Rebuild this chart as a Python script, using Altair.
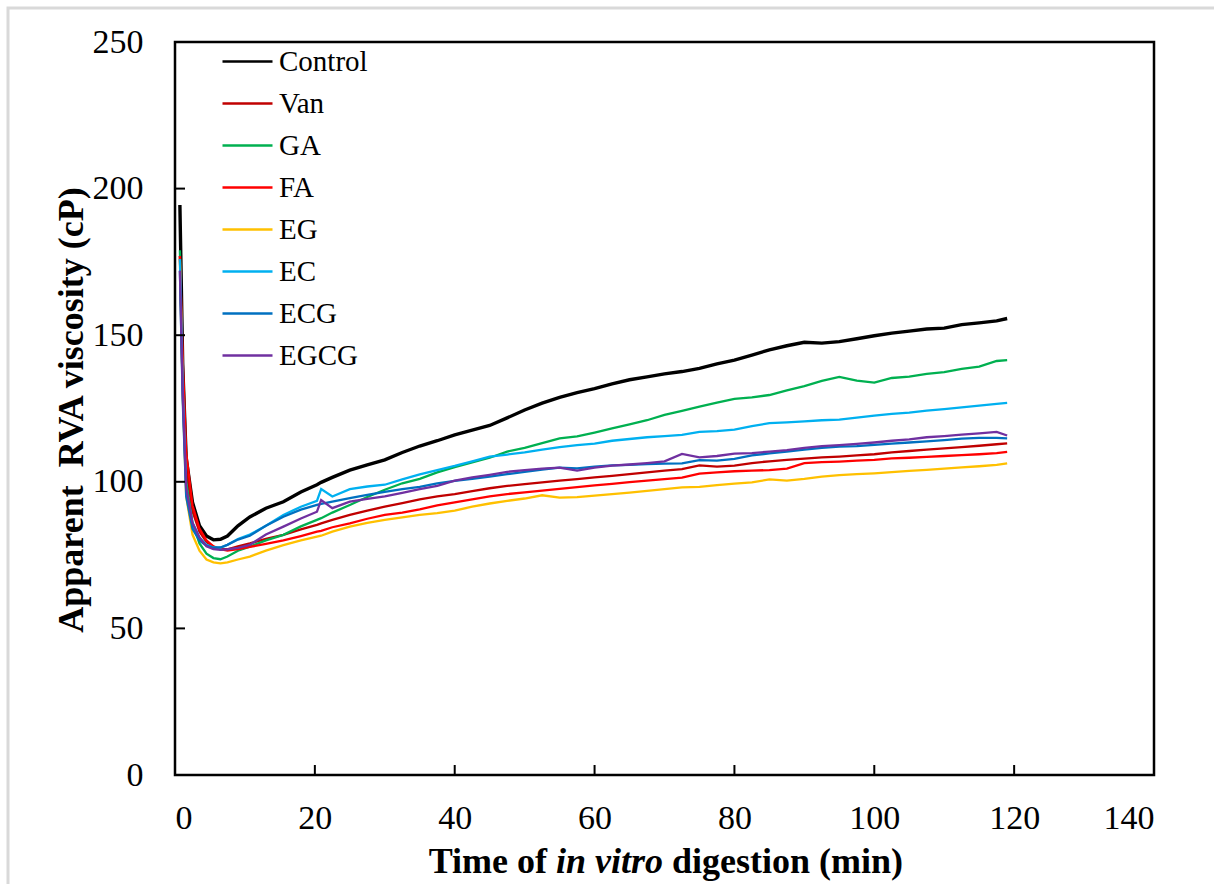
import altair as alt
import pandas as pd

SERIES = ["Control", "Van", "GA", "FA", "EG", "EC", "ECG", "EGCG"]
COLORS = ["#000000", "#C00000", "#00B050", "#FF0000", "#FFC000", "#00B0F0", "#0070C0", "#7030A0"]
WIDTHS = [3.4, 2.3, 2.3, 2.3, 2.3, 2.3, 2.3, 2.3]

TIME = [0.7, 1.1, 1.6, 2.5, 3.5, 4.5, 5.5, 6.5, 7.5, 9, 10.7, 13, 15.5, 18, 20.3, 20.9,
        22.5, 25, 27.5, 30, 32.5, 35, 37.5, 40, 42.5, 45, 47.5, 50, 52.5, 55, 57.5, 60,
        62.5, 65, 67.5, 70, 72.5, 75, 77.5, 80, 82.5, 85, 87.5, 90, 92.5, 95, 97.5, 100,
        102.5, 105, 107.5, 110, 112.5, 115, 117.5, 119]

CONTROL = [194.4, 140, 108, 93, 85, 81.5, 80.2, 80.4, 81.5, 85, 88, 91, 93.2, 96.5, 99, 99.8,
           101.5, 104, 105.8, 107.5, 110, 112.2, 114, 116, 117.6, 119.2, 121.8, 124.5, 126.8, 128.8, 130.4, 131.8,
           133.4, 134.8, 135.8, 136.8, 137.6, 138.7, 140.2, 141.5, 143.2, 145, 146.4, 147.6, 147.3, 147.8, 148.8, 149.8,
           150.7, 151.4, 152.1, 152.4, 153.6, 154.2, 154.9, 155.7]
VAN = [177, 138, 104, 90, 83, 79.5, 77.8, 77, 77, 78, 79, 80.5, 81.9, 83.8, 85.3, 85.8,
       87, 88.7, 90.2, 91.5, 92.7, 94, 95, 95.8, 96.8, 97.8, 98.6, 99.2, 99.8, 100.4, 100.9, 101.5,
       102, 102.6, 103.2, 103.8, 104.3, 105.6, 105.2, 105.5, 106.4, 107, 107.5, 107.9, 108.3, 108.6, 109, 109.4,
       110, 110.5, 111, 111.4, 111.8, 112.3, 112.8, 113.1]
GA = [179, 135, 100, 86, 79, 75.5, 74, 73.6, 74.5, 76.5, 77.9, 80, 81.9, 84.8, 87, 87.6,
      89.5, 92.1, 94.8, 97.3, 99.5, 101, 103.2, 105, 106.6, 108.2, 110.3, 111.6, 113.2, 114.8, 115.5, 116.8,
      118.2, 119.6, 121, 122.8, 124.2, 125.6, 127, 128.3, 128.8, 129.6, 131.2, 132.6, 134.4, 135.8, 134.5, 133.8,
      135.4, 135.9, 136.8, 137.4, 138.5, 139.3, 141.2, 141.5]
FA = [177, 142, 110, 92, 84, 80, 78, 77, 76.5, 77, 77.8, 78.8, 80, 81.5, 83, 83.3,
      84.5, 85.8, 87.4, 88.7, 89.5, 90.6, 92, 93, 94, 95, 95.8, 96.4, 97, 97.6, 98.2, 98.8,
      99.3, 99.9, 100.4, 100.9, 101.4, 102.8, 103.2, 103.6, 103.8, 104, 104.5, 106.4, 106.7, 106.9, 107.2, 107.5,
      108, 108.2, 108.5, 108.8, 109.1, 109.4, 109.8, 110.2]
EG = [176, 130, 95, 82, 76.5, 73.5, 72.5, 72.2, 72.5, 73.5, 74.5, 76.5, 78.4, 80, 81.3, 81.6,
      83, 84.7, 86, 87, 87.9, 88.7, 89.3, 90.2, 91.5, 92.6, 93.5, 94.3, 95.4, 94.6, 94.8, 95.3,
      95.8, 96.3, 96.9, 97.5, 98.1, 98.3, 98.9, 99.4, 99.8, 100.8, 100.4, 101, 101.8, 102.3, 102.6, 102.9,
      103.3, 103.7, 104.1, 104.5, 104.9, 105.3, 105.8, 106.3]
EC = [176, 132, 97, 86, 81, 78.5, 77.6, 77.5, 78.5, 80.5, 82, 85, 88.7, 91.5, 93.5, 97.5,
      95, 97.5, 98.4, 99, 100.8, 102.5, 104, 105.4, 107, 108.6, 109.3, 110, 111, 111.8, 112.5, 113,
      114, 114.6, 115.2, 115.6, 116, 117, 117.3, 117.8, 119, 120, 120.3, 120.6, 121, 121.2, 121.9, 122.6,
      123.2, 123.6, 124.3, 124.8, 125.4, 126, 126.6, 126.9]
ECG = [172, 128, 95, 84, 80, 78.2, 77.5, 77.6, 78.5, 80.3, 81.6, 85, 88.1, 90.5, 92.1, 92.5,
       93.2, 94.4, 95.5, 96.6, 97.5, 98.3, 99.5, 100.3, 101, 101.8, 102.6, 103.4, 104.2, 104.8, 104.6, 105.2,
       105.6, 105.8, 106, 106.2, 106.3, 107.4, 107.2, 107.8, 109, 109.7, 110.3, 111, 111.6, 112, 112.2, 112.6,
       113, 113.4, 113.8, 114.2, 114.7, 115, 115, 114.8]
EGCG = [172, 130, 98, 86, 81, 78, 77, 76.8, 77, 77.5, 78.5, 82, 84.7, 87.5, 89.8, 93.8,
        91, 93.2, 94.2, 95, 96.2, 97.5, 98.6, 100.4, 101.5, 102.4, 103.4, 104, 104.5, 104.8, 103.8, 104.8,
        105.5, 105.9, 106.4, 107, 109.5, 108.3, 108.8, 109.6, 109.8, 110.3, 110.8, 111.6, 112.2, 112.5, 112.9, 113.4,
        114, 114.5, 115.2, 115.6, 116.1, 116.5, 117, 115.8]

VALUES = [CONTROL, VAN, GA, FA, EG, EC, ECG, EGCG]
XTICKS = [0, 20, 40, 60, 80, 100, 120, 140]
YTICKS = [0, 50, 100, 150, 200, 250]

rows = []
for name, vals in zip(SERIES, VALUES):
    for t, v in zip(TIME, vals):
        rows.append({"series": name, "time": t, "visc": v})
df = pd.DataFrame(rows)

W, H = 979, 733
FONT = "Liberation Serif"

xscale = alt.Scale(domain=[0, 140], nice=False, zero=False)
yscale = alt.Scale(domain=[0, 250], nice=False)
cscale = alt.Scale(domain=SERIES, range=COLORS)

xenc = alt.X("time:Q", scale=xscale, title=None,
             axis=alt.Axis(values=XTICKS, labelPadding=26, labelFont=FONT))
yenc = alt.Y("visc:Q", scale=yscale, title=None,
             axis=alt.Axis(values=YTICKS, labelPadding=32, labelFont=FONT))

layers = []
for name, w in zip(SERIES, WIDTHS):
    lay = alt.Chart(df).transform_filter(alt.datum.series == name).mark_line(strokeWidth=w).encode(
        x=xenc, y=yenc,
        color=alt.Color("series:N", scale=cscale, title=None,
                        legend=alt.Legend(orient="none", legendX=46, legendY=-7))
    )
    layers.append(lay)

xt = alt.Chart(pd.DataFrame({"time": XTICKS})).mark_rule(color="black", strokeWidth=2).encode(
    x=xenc, y=alt.value(H), y2=alt.value(H - 10))
yt = alt.Chart(pd.DataFrame({"visc": YTICKS})).mark_rule(color="black", strokeWidth=2).encode(
    y=yenc, x=alt.value(0), x2=alt.value(10))

def txt(s, x, y, align, style="normal", angle=0):
    kw = dict(font=FONT, fontSize=36, fontWeight="bold", fontStyle=style, align=align,
              baseline="alphabetic", color="black")
    if angle:
        kw["angle"] = angle
    return alt.Chart(pd.DataFrame({"s": [s]})).mark_text(**kw).encode(
        text="s:N", x=alt.value(x), y=alt.value(y))

t1 = txt("Time of", 372, 831, "right")
t2 = txt("in vitro", 381, 831, "left", style="italic")
t3 = txt("digestion (min)", 497, 831, "left")
ty = txt("Apparent\u00a0\u00a0RVA viscosity (cP)", -92, 368, "center", angle=270)

frame = alt.Chart(pd.DataFrame({"a": [0]})).mark_rect(fill=None, stroke="#d9d9d9", strokeWidth=3).encode(
    x=alt.value(-167), x2=alt.value(1060), y=alt.value(-34), y2=alt.value(860))

chart = alt.layer(frame, *layers, xt, yt, t1, t2, t3, ty).properties(
    width=W, height=H,
    autosize=alt.AutoSizeParams(type="none"),
    padding={"left": 175, "top": 42, "right": 60, "bottom": 109},
).configure(
    background="white", font=FONT
).configure_view(
    stroke="black", strokeWidth=2.5
).configure_axis(
    labelFont=FONT, labelFontSize=34, labelColor="black", ticks=False, domain=False, grid=False
).configure_legend(
    symbolType="stroke", symbolSize=2500, symbolStrokeWidth=2.6, labelFont=FONT,
    labelFontSize=29, labelColor="black", labelOffset=5, rowPadding=-2.6, padding=0, labelLimit=300
)

chart.save("out.html", embed_options={"renderer": "svg", "actions": False})
